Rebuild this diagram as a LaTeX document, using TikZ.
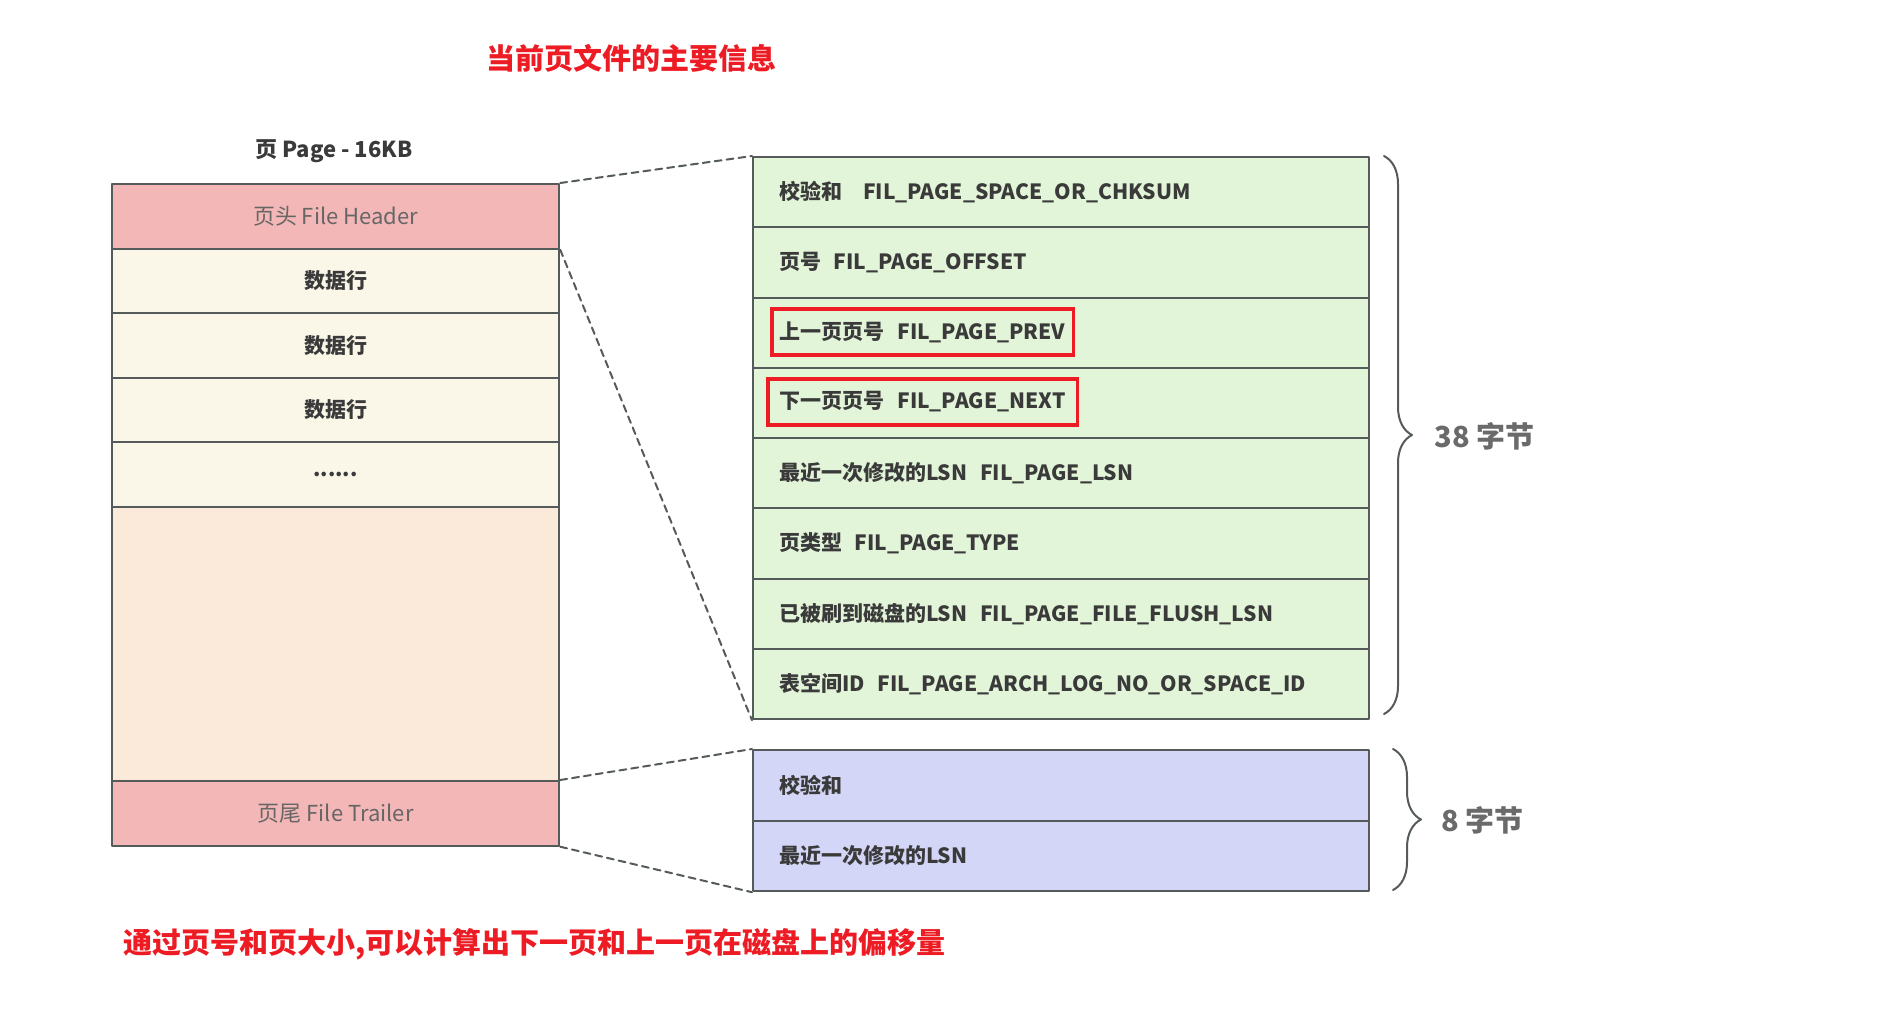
\documentclass[tikz,border=0pt]{standalone}
\usepackage{fontspec}
\setmainfont{Noto Sans CJK SC}
\usepackage{tikz}
\usetikzlibrary{decorations.pathreplacing}
\definecolor{edge}{HTML}{555A5A}
\definecolor{txtgray}{HTML}{3A3A3A}
\definecolor{hdrtext}{HTML}{666666}
\definecolor{sizegray}{HTML}{6A6A6A}
\definecolor{hdrpink}{HTML}{F4B7B7}
\definecolor{rowcream}{HTML}{FBF7E8}
\definecolor{freepeach}{HTML}{FBE9DA}
\definecolor{fieldgreen}{HTML}{E3F5D9}
\definecolor{trailblue}{HTML}{D4D6F7}
\definecolor{alertred}{HTML}{ED1C24}
\newcommand{\fsz}[1]{\fontsize{#1}{#1}\selectfont}
\tikzset{
  every picture/.style={line join=round, line cap=round},
  pagecell/.style={draw=edge, line width=2.2pt, minimum width=447pt, minimum height=64.5pt, inner sep=0pt, anchor=north west, font=\fsz{21}\bfseries, text=txtgray},
  fieldcell/.style={draw=edge, line width=2.2pt, fill=fieldgreen, minimum height=70.25pt, text width=564pt, inner xsep=26pt, inner ysep=0pt, align=left, anchor=north west, font=\fsz{21}\bfseries, text=txtgray},
  trailcell/.style={fieldcell, fill=trailblue, minimum height=70.5pt},
  markbox/.style={draw=alertred, line width=3.5pt, line cap=butt, line join=miter, anchor=west, inner ysep=0pt, minimum height=46pt, font=\fsz{21}\bfseries, text=txtgray},
  zoomline/.style={draw=edge, line width=2pt, dash pattern=on 7pt off 5pt},
  sizebrace/.style={draw=edge, line width=2pt, decorate, decoration={brace, amplitude=28pt}},
  sizelabel/.style={anchor=west, font=\fsz{29}\bfseries, text=sizegray},
  notetext/.style={font=\fsz{29}\bfseries, text=alertred},
}

\begin{document}
\begin{tikzpicture}[x=1pt,y=-1pt]
\useasboundingbox (0,0) rectangle (1898,1010);
\node[notetext] (title) at (631,58) {当前页文件的主要信息};
\node[font=\fsz{22}\bfseries, text=txtgray] (pagetitle) at (334,151) {页 Page - 16KB};
\node[pagecell, fill=hdrpink, font=\fsz{22}, text=hdrtext] (header) at (111,183) {页头 File Header};
\node[pagecell, fill=rowcream] (row1) at (111,247.5) {数据行};
\node[pagecell, fill=rowcream] (row2) at (111,312) {数据行};
\node[pagecell, fill=rowcream] (row3) at (111,376.5) {数据行};
\node[pagecell, fill=rowcream] (rowdots) at (111,441) {......};
\node[pagecell, fill=freepeach, minimum height=274.5pt] (free) at (111,505.5) {};
\node[pagecell, fill=hdrpink, font=\fsz{22}, text=hdrtext] (trailer) at (111,780) {页尾 File Trailer};
\node[fieldcell] (chksum) at (752,156) {校验和\hspace{1em}FIL\_PAGE\_SPACE\_OR\_CHKSUM};
\node[fieldcell] (offset) at (752,226.25) {页号\hspace{.6em}FIL\_PAGE\_OFFSET};
\node[fieldcell] (prev) at (752,296.5) {};
\node[fieldcell] (next) at (752,366.75) {};
\node[fieldcell] (lsn) at (752,437) {最近一次修改的LSN\hspace{.6em}FIL\_PAGE\_LSN};
\node[fieldcell] (type) at (752,507.25) {页类型\hspace{.6em}FIL\_PAGE\_TYPE};
\node[fieldcell] (flush) at (752,577.5) {已被刷到磁盘的LSN\hspace{.6em}FIL\_PAGE\_FILE\_FLUSH\_LSN};
\node[fieldcell] (spaceid) at (752,647.75) {表空间ID\hspace{.6em}FIL\_PAGE\_ARCH\_LOG\_NO\_OR\_SPACE\_ID};
\node[markbox, inner xsep=8pt] (prevmark) at (770,332) {上一页页号\hspace{.6em}FIL\_PAGE\_PREV};
\node[markbox, inner xsep=12pt] (nextmark) at (766,402) {下一页页号\hspace{.6em}FIL\_PAGE\_NEXT};
\node[trailcell] (trailsum) at (752,749) {校验和};
\node[trailcell] (traillsn) at (752,819.5) {最近一次修改的LSN};
\draw[zoomline] (header.north east) -- (chksum.north west);
\draw[zoomline] (header.south east) -- (spaceid.south west);
\draw[zoomline] (trailer.north east) -- (trailsum.north west);
\draw[zoomline] (trailer.south east) -- (traillsn.south west);
\coordinate (hdrtop) at (1384,156);
\coordinate (hdrbot) at (1384,714);
\draw[sizebrace] (hdrtop) -- (hdrbot);
\node[sizelabel] (hdrsize) at (1431,436) {38 字节};
\coordinate (trltop) at (1393,749);
\coordinate (trlbot) at (1393,890);
\draw[sizebrace] (trltop) -- (trlbot);
\node[sizelabel] (trlsize) at (1438,820) {8 字节};
\node[notetext, anchor=west] (note) at (120,944) {通过页号和页大小,可以计算出下一页和上一页在磁盘上的偏移量};
\end{tikzpicture}
\end{document}
